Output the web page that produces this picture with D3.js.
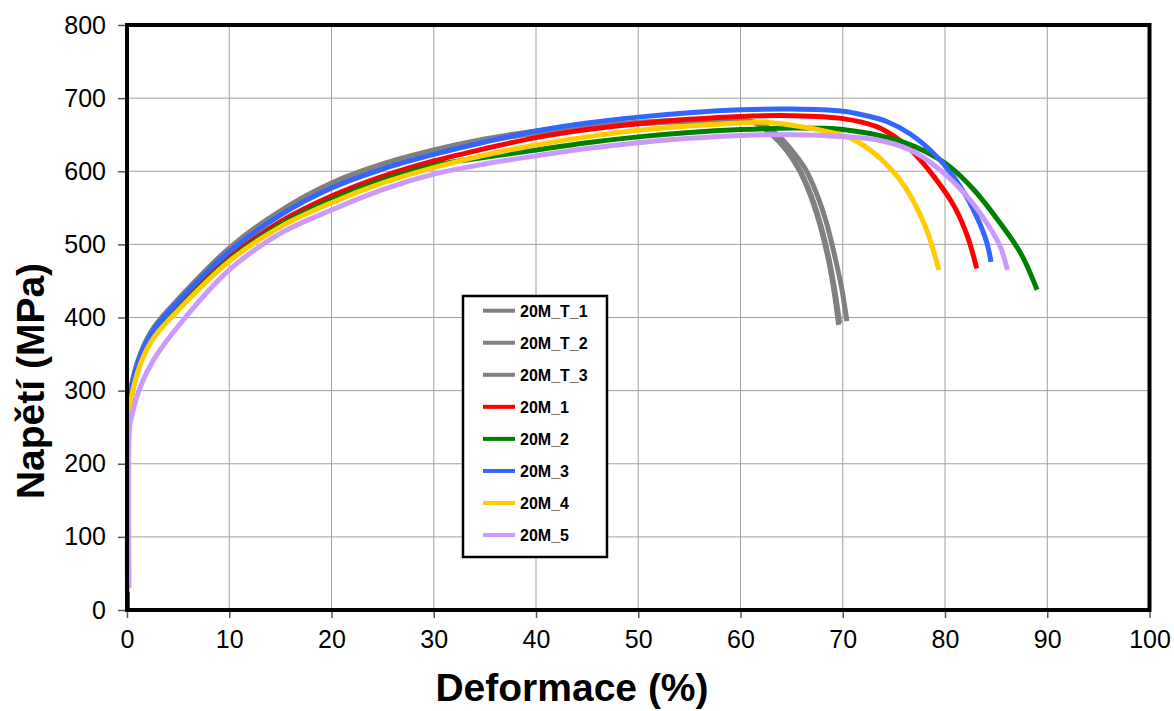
<!DOCTYPE html>
<html>
<head>
<meta charset="utf-8">
<script src="https://cdn.jsdelivr.net/npm/d3@7"></script>
<style>
  body { margin: 0; background: #fff; }
  svg { display: block; }
  text { font-family: "Liberation Sans", Arial, Helvetica, sans-serif; }
</style>
</head>
<body>
<svg id="chart" width="1174" height="711"></svg>
<script>
// Tensile test curves: stress (MPa) vs. strain (%)
const seriesNames  = ["20M_T_1", "20M_T_2", "20M_T_3", "20M_1", "20M_2", "20M_3", "20M_4", "20M_5"];
const seriesColors = ["#808080", "#808080", "#808080", "#ff0000", "#008000", "#3366ff", "#ffcc00", "#cc99ff"];

const strainT1 = [0.05, 0.2, 0.4, 1.3, 2.6, 5, 10, 15, 20, 25, 30, 35, 40, 45, 50, 55, 60, 61.5, 63, 64.4, 65.6, 66.7, 67.7, 68.5, 69.1, 69.6];
const stressT1 = [25, 280, 305, 350, 386, 425, 495, 546, 584, 610, 629, 644, 655, 662, 667, 670, 670, 666, 651, 630, 605, 572, 530, 485, 440, 390];

const strainT2 = [0.05, 0.2, 0.4, 1.3, 2.6, 5, 10, 15, 20, 25, 30, 35, 40, 45, 50, 55, 60, 62, 63.6, 65, 66.3, 67.4, 68.4, 69.2, 69.9, 70.4];
const stressT2 = [25, 276, 302, 348, 384, 422, 492, 543, 581, 607, 626, 641, 652, 660, 665, 668, 669, 665, 650, 629, 604, 571, 530, 485, 440, 395];

const strainT3 = [0.05, 0.2, 0.4, 1.3, 2.6, 5, 10, 15, 20, 25, 30, 35, 40, 45, 50, 55, 60, 61.6, 63.1, 64.5, 65.7, 66.8, 67.8, 68.6, 69.2, 69.7];
const stressT3 = [25, 278, 303, 349, 385, 423, 493, 544, 582, 608, 627, 642, 653, 661, 666, 669, 669, 665, 650, 629, 604, 571, 529, 484, 439, 392];

const strain1 = [0.05, 0.2, 0.4, 1.3, 2.6, 5, 10, 15, 20, 25, 30, 35, 40, 45, 50, 55, 60, 65, 70, 73.3, 75, 76.6, 78.9, 80.9, 82.2, 83.1];
const stress1 = [25, 268, 292, 340, 376, 414, 482, 531, 566, 593, 614, 631, 646, 657, 665, 671, 675, 676, 672, 661, 648, 630, 593, 552, 511, 467];

const strain2 = [0.05, 0.2, 0.4, 1.3, 2.6, 5, 10, 15, 20, 25, 30, 35, 40, 45, 50, 55, 60, 65, 70, 75, 77, 79, 80.5, 82.8, 85.4, 87.4, 89];
const stress2 = [0, 265, 290, 338, 374, 412, 479, 527, 561, 588, 608, 619, 629, 639, 647, 653, 657, 659, 657, 644, 634, 620, 606, 575, 529, 488, 438];

const strain3 = [0.05, 0.2, 0.4, 1.3, 2.6, 5, 10, 15, 20, 25, 30, 35, 40, 45, 50, 55, 60, 65, 70, 72, 74.3, 76.6, 79.2, 81.5, 83.1, 84.1, 84.5];
const stress3 = [25, 275, 300, 347, 383, 422, 490, 540, 577, 603, 623, 640, 655, 666, 674, 680, 684, 685, 682, 677, 668, 651, 620, 579, 538, 502, 476];

const strain4 = [0.05, 0.2, 0.4, 1.3, 2.6, 5, 10, 15, 20, 25, 30, 35, 40, 45, 50, 55, 60, 62, 65, 70, 71.5, 73.8, 75.5, 76.8, 78.2, 79.4];
const stress4 = [25, 262, 288, 336, 372, 410, 477, 524, 557, 584, 605, 622, 636, 647, 656, 662, 666, 667, 663, 649, 640, 616, 590, 562, 520, 465];

const strain5 = [0.2, 0.25, 0.4, 1.3, 2.6, 5, 10, 15, 20, 25, 30, 35, 40, 45, 50, 55, 60, 65, 70, 73.3, 76.6, 79.5, 82.2, 84.1, 85.4, 86.1];
const stress5 = [30, 250, 262, 305, 342, 388, 465, 515, 547, 575, 596, 610, 621, 631, 639, 645, 649, 650, 647.5, 643, 629, 602, 565, 529, 497, 465];

const strainSets = [strainT1, strainT2, strainT3, strain1, strain2, strain3, strain4, strain5];
const stressSets = [stressT1, stressT2, stressT3, stress1, stress2, stress3, stress4, stress5];

const xTickValues = [0, 10, 20, 30, 40, 50, 60, 70, 80, 90, 100];
const yTickValues = [0, 100, 200, 300, 400, 500, 600, 700, 800];
const xTitle = "Deformace (%)";
const yTitle = "Napětí (MPa)";

const svg = d3.select("#chart");
const plot = { left: 127, right: 1149.5, top: 25, bottom: 610 };

const x = d3.scaleLinear().domain([0, 100]).range([plot.left, plot.right]);
const y = d3.scaleLinear().domain([0, 800]).range([plot.bottom, plot.top]);

// gridlines
const grid = svg.append("g").attr("class", "grid");
grid.selectAll("line.v").data(xTickValues.slice(1, -1)).join("line")
  .attr("x1", d => x(d)).attr("x2", d => x(d))
  .attr("y1", plot.top).attr("y2", plot.bottom)
  .attr("stroke", "#a0a0a0").attr("stroke-width", 1);
grid.selectAll("line.h").data(yTickValues.slice(1, -1)).join("line")
  .attr("x1", plot.left).attr("x2", plot.right)
  .attr("y1", d => y(d)).attr("y2", d => y(d))
  .attr("stroke", "#a0a0a0").attr("stroke-width", 1);

// curves
const line = d3.line()
  .x(d => x(d[0]))
  .y(d => y(d[1]))
  .curve(d3.curveCatmullRom.alpha(0.5));

const curves = svg.append("g").attr("class", "curves");
seriesNames.forEach((name, i) => {
  const pts = strainSets[i].map((s, k) => [s, stressSets[i][k]]);
  curves.append("path")
    .datum(pts)
    .attr("d", line)
    .attr("fill", "none")
    .attr("stroke", seriesColors[i])
    .attr("stroke-width", 5)
    .attr("stroke-linejoin", "round");
});

// axes
const xAxis = svg.append("g")
  .attr("transform", `translate(0,${plot.bottom})`)
  .call(d3.axisBottom(x).tickValues(xTickValues).tickSize(8).tickPadding(12).tickFormat(d3.format("d")));
const yAxis = svg.append("g")
  .attr("transform", `translate(${plot.left},0)`)
  .call(d3.axisLeft(y).tickValues(yTickValues).tickSize(9).tickPadding(12).tickFormat(d3.format("d")));
[xAxis, yAxis].forEach(a => {
  a.select(".domain").remove();
  a.selectAll(".tick line").attr("stroke", "#555").attr("stroke-width", 1.5);
  a.selectAll(".tick text")
    .attr("fill", "#000")
    .style("font-size", "25px")
    .style("font-family", "'Liberation Sans', Arial, sans-serif");
});

// plot frame
svg.append("rect")
  .attr("x", plot.left).attr("y", plot.top)
  .attr("width", plot.right - plot.left).attr("height", plot.bottom - plot.top)
  .attr("fill", "none").attr("stroke", "#000").attr("stroke-width", 4);

// axis titles
svg.append("text")
  .attr("x", 572).attr("y", 701)
  .attr("text-anchor", "middle")
  .style("font-size", "39px").style("font-weight", "bold")
  .text(xTitle);
svg.append("text")
  .attr("transform", `translate(44,381) rotate(-90)`)
  .attr("text-anchor", "middle")
  .style("font-size", "39px").style("font-weight", "bold")
  .text(yTitle);

// legend
const legend = svg.append("g").attr("class", "legend");
legend.append("rect")
  .attr("x", 463).attr("y", 296).attr("width", 144).attr("height", 261)
  .attr("fill", "#fff").attr("stroke", "#000").attr("stroke-width", 2.5);
seriesNames.forEach((name, i) => {
  const ly = 310.7 + i * 32.05;
  legend.append("line")
    .attr("x1", 483).attr("x2", 515).attr("y1", ly).attr("y2", ly)
    .attr("stroke", seriesColors[i]).attr("stroke-width", 4);
  legend.append("text")
    .attr("x", 520).attr("y", ly + 6)
    .style("font-size", "16px").style("font-weight", "bold")
    .text(name);
});
</script>
</body>
</html>
